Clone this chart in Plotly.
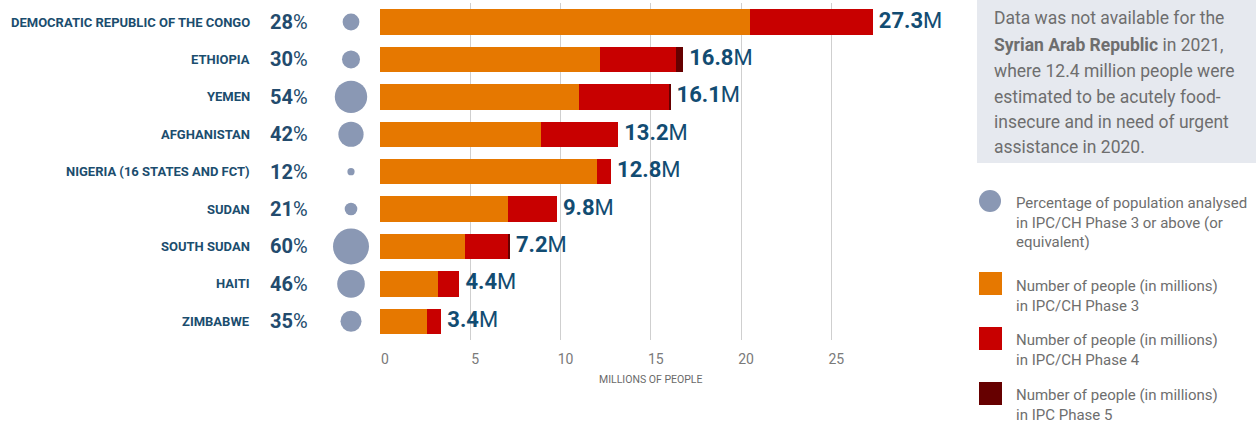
import plotly.graph_objects as go

W, H = 1256, 425

countries = ["DEMOCRATIC REPUBLIC OF THE CONGO", "ETHIOPIA", "YEMEN", "AFGHANISTAN",
             "NIGERIA (16 STATES AND FCT)", "SUDAN", "SOUTH SUDAN", "HAITI", "ZIMBABWE"]
pct = [28, 30, 54, 42, 12, 21, 60, 46, 35]
phase3 = [20.5, 12.2, 11.0, 8.9, 12.0, 7.1, 4.7, 3.2, 2.6]
phase4 = [6.8, 4.2, 5.05, 4.3, 0.8, 2.7, 2.4, 1.2, 0.8]
phase5 = [0, 0.4, 0.05, 0, 0, 0, 0.1, 0, 0]
totals = [27.3, 16.8, 16.1, 13.2, 12.8, 9.8, 7.2, 4.4, 3.4]
tick_vals = [0, 5, 10, 15, 20, 25]
grid_vals = [5, 10, 15, 20, 25]

C3, C4, C5 = "#e67800", "#c80000", "#660000"
CIRC = "#8a98b4"
BLUE = "#1b4d6e"
GREY = "#6e6e6e"
FONT = "Roboto, sans-serif"


def fx(p):
    return p / W


def fy(p):
    return 1 - p / H


fig = go.Figure()
for vals, col, name in [(phase3, C3, "Phase 3"), (phase4, C4, "Phase 4"), (phase5, C5, "Phase 5")]:
    fig.add_trace(go.Bar(x=vals, y=countries, orientation="h", marker=dict(color=col, line=dict(width=0)),
                         name=name, xaxis="x", yaxis="y", showlegend=False))

fig.add_trace(go.Scatter(x=[0.5] * len(countries), y=countries, mode="markers",
                         marker=dict(size=[p * 0.6 for p in pct], color=CIRC, opacity=1, line=dict(width=0)),
                         xaxis="x2", yaxis="y", showlegend=False))

fig.add_trace(go.Scatter(x=totals, y=countries, mode="markers+text",
                         marker=dict(size=8, opacity=0),
                         text=[f"<b>{t}</b>M" for t in totals], textposition="middle right",
                         textfont=dict(family=FONT, size=22, color="#124c72"),
                         cliponaxis=False, xaxis="x3", yaxis="y", showlegend=False))

annotations = []
for c, p in zip(countries, pct):
    annotations.append(dict(x=fx(252), y=c, xref="paper", yref="y", xanchor="right", yanchor="middle",
                            text=f"<b>{c}</b>", showarrow=False,
                            font=dict(family=FONT, size=13, color=BLUE)))
    annotations.append(dict(x=fx(268), y=c, xref="paper", yref="y", xanchor="left", yanchor="middle",
                            text=f"<b>{p}</b>%", showarrow=False,
                            font=dict(family=FONT, size=20, color="#234b6d")))

box_lines = ["Data was not available for the",
             "<b>Syrian Arab Republic</b> in 2021,",
             "where 12.4 million people were",
             "estimated to be acutely food-",
             "insecure and in need of urgent",
             "assistance in 2020."]
box_y = [18, 44.5, 70.5, 96.5, 122, 147]
for t, yy in zip(box_lines, box_y):
    annotations.append(dict(x=fx(992), y=fy(yy), xref="paper", yref="paper", xanchor="left", yanchor="middle",
                            text=t, showarrow=False, font=dict(family=FONT, size=17.5, color=GREY)))

legend_items = [("Percentage of population analysed<br>in IPC/CH Phase 3 or above (or<br>equivalent)", 222),
                ("Number of people (in millions)<br>in IPC/CH Phase 3", 295.5),
                ("Number of people (in millions)<br>in IPC/CH Phase 4", 350),
                ("Number of people (in millions)<br>in IPC Phase 5", 405)]
for t, yy in legend_items:
    annotations.append(dict(x=fx(1014), y=fy(yy), xref="paper", yref="paper", xanchor="left", yanchor="middle",
                            align="left", text=t, showarrow=False, font=dict(family=FONT, size=15, color=GREY)))

shapes = [
    dict(type="rect", xref="paper", yref="paper", x0=fx(977), x1=1, y0=fy(163), y1=1,
         fillcolor="#e6e9ef", line=dict(width=0), layer="below"),
    dict(type="circle", xref="paper", yref="paper", x0=fx(979), x1=fx(1001), y0=fy(212), y1=fy(190),
         fillcolor=CIRC, line=dict(width=0)),
]
for col, y0 in [(C3, 272), (C4, 327), (C5, 382)]:
    shapes.append(dict(type="rect", xref="paper", yref="paper", x0=fx(979), x1=fx(1002),
                       y0=fy(y0 + 23), y1=fy(y0), fillcolor=col, line=dict(width=0)))

fig.update_layout(
    width=W, height=H, margin=dict(l=0, r=0, t=0, b=0, autoexpand=False),
    paper_bgcolor="white", plot_bgcolor="white",
    barmode="stack", bargap=0.32,
    xaxis=dict(domain=[fx(380), fx(921.5)], range=[0, 30], tickvals=grid_vals, showgrid=True,
               gridcolor="#cfcfcf", gridwidth=1, showticklabels=False, zeroline=False, showline=False,
               ticks="", anchor="y", automargin=False),
    xaxis3=dict(overlaying="x", anchor="y", side="bottom", range=[0, 30], tickvals=tick_vals,
                ticktext=[str(v) for v in tick_vals], showgrid=False, zeroline=False, showline=False,
                ticks="outside", ticklen=6, tickcolor="rgba(0,0,0,0)", automargin=False,
                ticklabelshift=5,
                tickfont=dict(family=FONT, size=14, color="#7a7a7a"),
                title=dict(text="MILLIONS OF PEOPLE", font=dict(family=FONT, size=10.5, color="#6a6a6a"),
                           standoff=9)),
    xaxis2=dict(domain=[fx(330), fx(372)], range=[0, 1], visible=False, anchor="y", automargin=False),
    yaxis=dict(domain=[fy(340), fy(3.3)], type="category", categoryorder="array", categoryarray=countries,
               range=[len(countries) - 0.5, -0.5], autorange=False,
               showticklabels=False, showgrid=False, zeroline=False, showline=False,
               automargin=False),
    annotations=annotations, shapes=shapes,
)

fig.write_html("out.html")
